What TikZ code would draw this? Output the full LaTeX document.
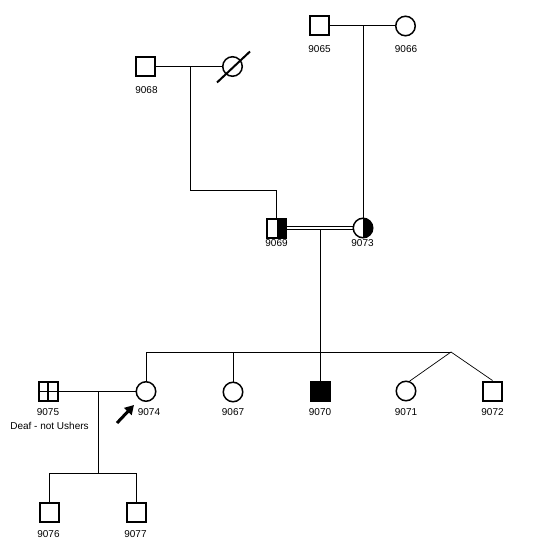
\documentclass[tikz,border=0pt]{standalone}
\usepackage{fontspec}
\setmainfont{Liberation Sans}
\usetikzlibrary{arrows.meta}
\begin{document}
\begin{tikzpicture}[x=1pt,y=-1pt,
  male/.style={draw,line width=2pt,rectangle,minimum size=19pt,inner sep=0pt},
  female/.style={draw,line width=1.5pt,circle,minimum size=19.5pt,inner sep=0pt},
  affected/.style={fill=black},
  halfright/.style={path picture={\fill[black] (path picture bounding box.north) rectangle (path picture bounding box.south east);}},
  crossed/.style={path picture={\draw[line width=1.5pt] (path picture bounding box.north) -- (path picture bounding box.south) (path picture bounding box.west) -- (path picture bounding box.east);}},
  lab/.style={font=\fontsize{10}{12}\selectfont,inner sep=0pt},
  rel/.style={line width=1pt},
  twin/.style={line width=0.7pt}
]
\useasboundingbox (0,0) rectangle (541,559);
% generation I
\node[male] (p9065) at (319.5,26) {};
\node[female] (p9066) at (405.5,26) {};
\node[male] (p9068) at (145.5,66.5) {};
\node[female] (p9068w) at (232.5,66.5) {};
\draw[line width=2pt] ([shift={(-15.5,16)}]p9068w.center) coordinate (d1) -- ([shift={(17.5,-15)}]p9068w.center) coordinate (d2);
% generation II
\node[male,halfright] (p9069) at (276.5,228) {};
\node[female,halfright] (p9073) at (363,228) {};
% generation III
\node[male,crossed] (p9075) at (48,391.5) {};
\node[female] (p9074) at (146,391.5) {};
\node[female] (p9067) at (233,392) {};
\node[male,affected] (p9070) at (320.5,391) {};
\node[female] (p9071) at (406,391) {};
\node[male] (p9072) at (492.5,391) {};
% generation IV
\node[male] (p9076) at (49,512) {};
\node[male] (p9077) at (136,512) {};
% labels
\node[lab] (l9065) at (319.5,49) {9065};
\node[lab] (l9066) at (406,49) {9066};
\node[lab] (l9068) at (146.5,90) {9068};
\node[lab] (l9069) at (276.5,243) {9069};
\node[lab] (l9073) at (362.5,243) {9073};
\node[lab] (l9075) at (48,412.5) {9075};
\node[lab] (l9075b) at (49.5,426) {Deaf - not Ushers};
\node[lab] (l9074) at (149,412.5) {9074};
\node[lab] (l9067) at (233,412.5) {9067};
\node[lab] (l9070) at (320,412.5) {9070};
\node[lab] (l9071) at (406,412.5) {9071};
\node[lab] (l9072) at (492.5,412.5) {9072};
\node[lab] (l9076) at (48.5,534.5) {9076};
\node[lab] (l9077) at (135.5,534.5) {9077};
% coordinates
\coordinate (m1) at (363,26);
\coordinate (m2) at (190,66.5);
\coordinate (k1) at (190,190.5);
\coordinate (k2) at (276.5,190.5);
\coordinate (m3) at (320.5,229.5);
\coordinate (s0) at (320.5,352);
\coordinate (sL) at (146,352);
\coordinate (sR) at (451,352);
\coordinate (s9067) at (233,352);
\coordinate (m4) at (98,391.5);
\coordinate (c0) at (98,473);
\coordinate (cL) at (49,473);
\coordinate (cR) at (136,473);
\coordinate (a1) at (117,423);
\coordinate (a2) at (134,405);
% marriages
\draw[rel] (p9065.east) -- (p9066.west);
\draw[rel] (m1) -- (p9073.north);
\draw[rel] (p9068.east) -- (p9068w.west);
\draw[rel] (m2) -- (k1) -- (k2) -- (p9069.north);
\draw[rel] ([yshift=-1.7pt]p9069.east) -- ([yshift=-1.7pt]p9073.west);
\draw[rel] ([yshift=1.7pt]p9069.east) -- ([yshift=1.7pt]p9073.west);
\draw[rel] (m3) -- (s0);
\draw[rel] (sL) -- (sR);
\draw[rel] (sL) -- (p9074.north);
\draw[rel] (s9067) -- (p9067.north);
\draw[rel] (s0) -- (p9070.north);
\draw[twin] (sR) -- (p9071.70);
\draw[twin] (sR) -- (p9072.north);
\draw[rel] (p9075.east) -- (p9074.west);
\draw[rel] (m4) -- (c0);
\draw[rel] (cL) -- (cR);
\draw[rel] (cL) -- (p9076.north);
\draw[rel] (cR) -- (p9077.north);
% proband arrow
\draw[line width=3pt,-{Triangle[length=9pt,width=10pt]}] (a1) -- (a2);
\end{tikzpicture}
\end{document}
